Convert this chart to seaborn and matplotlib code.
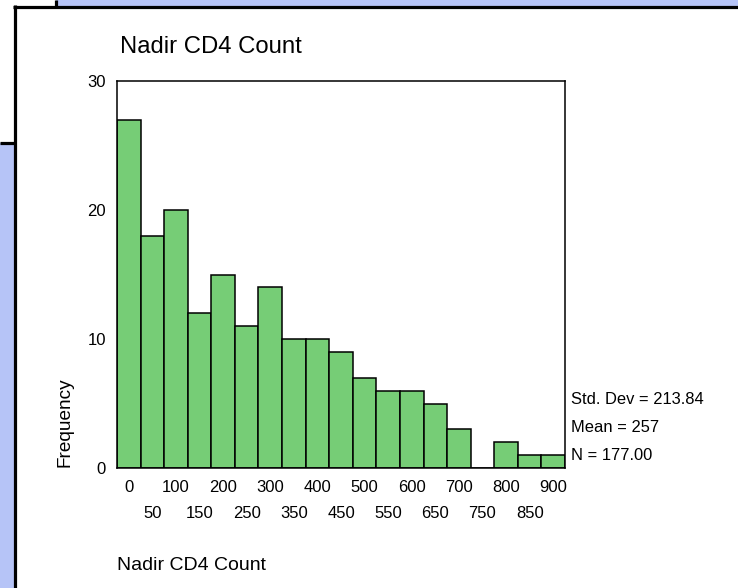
import numpy as np
import matplotlib
matplotlib.use("Agg")
import matplotlib.pyplot as plt
from matplotlib.patches import Rectangle
from matplotlib.lines import Line2D
import seaborn as sns

# 막대 중심값 (CD4, 50 단위) 과 빈도
cd4_bins = [0, 50, 100, 150, 200, 250, 300, 350, 400, 450,
            500, 550, 600, 650, 700, 750, 800, 850, 900]
frequency = [27, 18, 20, 12, 15, 11, 14, 10, 10, 9,
             7, 6, 6, 5, 3, 0, 2, 1, 1]
y_ticks = [0, 10, 20, 30]
stats_lines = ["Std. Dev = 213.84", "Mean = 257", "N = 177.00"]
title = "Nadir CD4 Count"
x_label = "Nadir CD4 Count"
y_label = "Frequency"

sns.set_style("white")
plt.rcParams['font.family'] = ['Liberation Sans', 'DejaVu Sans']
plt.rcParams['text.color'] = 'black'
plt.rcParams['xtick.color'] = 'black'
plt.rcParams['ytick.color'] = 'black'

W, H = 738, 588
fig = plt.figure(figsize=(W / 100, H / 100), dpi=100)
fig.patch.set_facecolor('white')

lav = '#b6c4f7'

def px(x0, y0, x1, y1, **kw):
    # 픽셀 좌표 -> figure 좌표 사각형
    r = Rectangle((x0 / W, 1 - y1 / H), (x1 - x0) / W, (y1 - y0) / H,
                  transform=fig.transFigure, **kw)
    fig.add_artist(r)

def line(xs, ys, lw=2.3):
    fig.add_artist(Line2D([x / W for x in xs], [1 - y / H for y in ys],
                          transform=fig.transFigure, color='black', lw=lw,
                          solid_capstyle='butt'))

# 배경 창 모양
px(0, 143, 14, H, facecolor=lav, edgecolor='none')
px(56, 0, W, 6, facecolor=lav, edgecolor='none')
line([0, 14], [143, 143])
line([55.5, 55.5], [0, 6])
line([14.5, 14.5], [5, H])
line([13, W], [6.5, 6.5])

ax = fig.add_axes([117 / W, 1 - 468 / H, (565 - 117) / W, (468 - 81) / H])

lo, hi = cd4_bins[0] - 25, cd4_bins[-1] + 25
sns.histplot(x=cd4_bins, weights=frequency, binwidth=50, binrange=(lo, hi),
             ax=ax, color='#76cd76', alpha=1, edgecolor='black', linewidth=1.1)

ax.set_xlim(lo, hi)
ax.set_ylim(0, 30)
ax.set_yticks(y_ticks)
ax.set_xticks(cd4_bins[::2])
ax.set_xticks(cd4_bins[1::2], minor=True)
ax.set_xticklabels([str(v) for v in cd4_bins[::2]])
ax.set_xticklabels([str(v) for v in cd4_bins[1::2]], minor=True)
ax.tick_params(axis='both', which='both', direction='out', length=4,
               width=1, labelsize=12, color='black', labelcolor='black')
ax.tick_params(axis='x', which='major', pad=4.5)
ax.tick_params(axis='x', which='minor', pad=23)
ax.tick_params(axis='y', pad=4)
ax.set_xlabel('')
ax.set_ylabel('')
for s in ax.spines.values():
    s.set_visible(True)
    s.set_color('black')
    s.set_linewidth(1.1)

fig.text(120 / W, 1 - 47 / H, title, fontsize=17.2, va='center', ha='left')
fig.text(117 / W, 1 - 565 / H, x_label, fontsize=14, va='center', ha='left')
fig.text(65 / W, 1 - 422 / H, y_label, fontsize=13.7, rotation=90,
         va='center', ha='center')
for txt, yy in zip(stats_lines, [399, 427, 456]):
    fig.text(571 / W, 1 - yy / H, txt, fontsize=11.9, va='center', ha='left')

fig.savefig('out.png', dpi=100)
